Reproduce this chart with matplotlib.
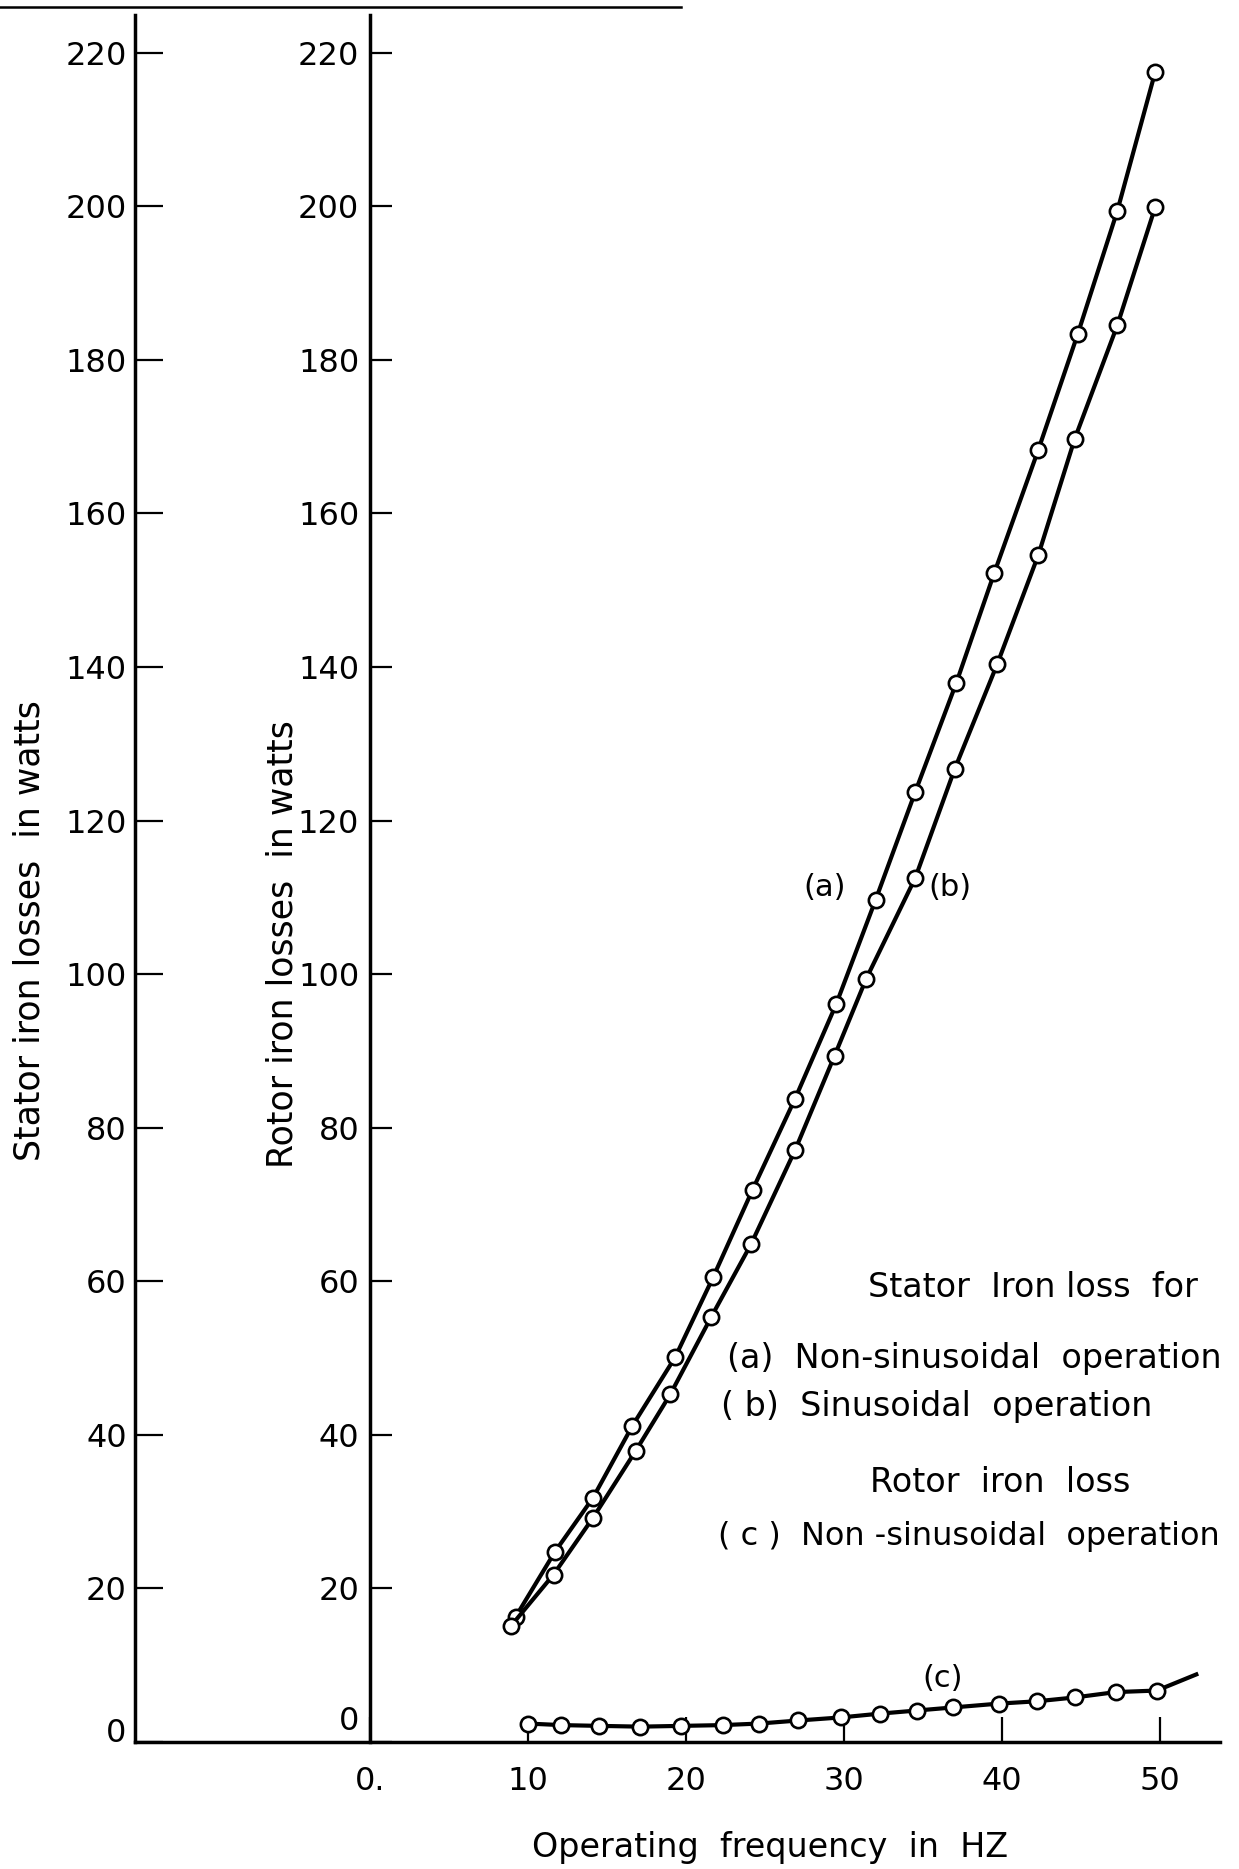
import matplotlib
matplotlib.use("Agg")
import matplotlib.pyplot as plt
from matplotlib.lines import Line2D
from matplotlib.transforms import ScaledTranslation

# data (Hz, watts)
freq_a = [9.2, 11.7, 14.1, 16.6, 19.3, 21.7, 24.2, 26.9, 29.5, 32.0, 34.5, 37.1, 39.5, 42.3, 44.8, 47.3, 49.7]
loss_a = [16.3, 24.8, 31.8, 41.2, 50.1, 60.5, 71.9, 83.8, 96.1, 109.7, 123.7, 137.9, 152.2, 168.3, 183.4, 199.4, 217.5]
freq_b = [8.9, 11.6, 14.1, 16.8, 19.0, 21.6, 24.1, 26.9, 29.4, 31.4, 34.5, 37.0, 39.7, 42.3, 44.6, 47.3, 49.7]
loss_b = [15.1, 21.8, 29.2, 37.9, 45.3, 55.4, 64.8, 77.1, 89.4, 99.4, 112.5, 126.7, 140.4, 154.6, 169.7, 184.5, 199.9]
freq_c = [10.0, 12.1, 14.5, 17.1, 19.7, 22.3, 24.6, 27.1, 29.8, 32.3, 34.6, 36.9, 39.8, 42.2, 44.6, 47.2, 49.8]
loss_c = [2.4, 2.2, 2.1, 2.0, 2.1, 2.2, 2.4, 2.8, 3.2, 3.7, 4.1, 4.5, 5.0, 5.3, 5.8, 6.5, 6.7]
# curve (c) is drawn on a little past the last point
tail_c_freq = [49.8, 52.3]
tail_c_loss = [6.7, 8.8]

y_ticks = list(range(0, 221, 20))
x_ticks = [0, 10, 20, 30, 40, 50]
x_ticklabels = ["0.", "10", "20", "30", "40", "50"]

plt.rcParams["font.family"] = ["DejaVu Sans"]
fs = 23
fs_key = 24

fig = plt.figure(figsize=(12.39, 18.69), dpi=100)
W, H = 1239.0, 1869.0
left_px, right_px, top_px, bot_px = 135, 1220, 15, 1742
pos = [left_px / W, 1 - bot_px / H, (right_px - left_px) / W, (bot_px - top_px) / H]

ax = fig.add_axes(pos)
ax.set_xlim(-14.9, 53.8)
ax.set_ylim(0, 224.9)

# rotor axis = left spine moved to x = 0
for s in ["top", "right"]:
    ax.spines[s].set_visible(False)
ax.spines["left"].set_position(("data", 0))
ax.spines["left"].set_linewidth(2.5)
ax.spines["bottom"].set_linewidth(2.5)
ax.set_yticks(y_ticks)
ax.set_yticklabels([str(v) for v in y_ticks], fontsize=fs)
ax.tick_params(axis="y", direction="in", length=16, width=1.6, pad=8)
ax.set_xticks(x_ticks)
ax.set_xticklabels(x_ticklabels, fontsize=fs)
ax.tick_params(axis="x", direction="in", length=18, width=1.6, pad=17)
ax.set_ylabel("Rotor iron losses  in watts", fontsize=25)
ax.yaxis.set_label_coords(0.152, 0.462)
ax.set_xlabel("Operating  frequency  in  HZ", fontsize=24, va="center")
ax.xaxis.set_label_coords(0.585, -0.061)

# stator axis on the far left, same scale
ax_s = fig.add_axes(pos, sharey=ax)
ax_s.patch.set_visible(False)
for s in ["top", "right", "bottom"]:
    ax_s.spines[s].set_visible(False)
ax_s.spines["left"].set_linewidth(2.5)
ax_s.set_xticks([])
ax_s.tick_params(axis="y", direction="in", length=20, width=1.6, pad=6, labelsize=fs)
ax_s.set_ylabel("Stator iron losses  in watts", fontsize=25)
ax_s.yaxis.set_label_coords(-0.082, 0.470)

# the two "0" labels sit just above the frequency axis in the original
fig.canvas.draw()
ax.get_yticklabels()[0].set_transform(
    ax.get_yticklabels()[0].get_transform() + ScaledTranslation(0, 17 / 72, fig.dpi_scale_trans))
ax_s.get_yticklabels()[0].set_transform(
    ax_s.get_yticklabels()[0].get_transform() + ScaledTranslation(0, 9 / 72, fig.dpi_scale_trans))

mk = dict(marker="o", markersize=11, markerfacecolor="white",
          markeredgecolor="black", markeredgewidth=1.9)
ax.plot(freq_a, loss_a, color="black", lw=3.0, **mk, zorder=3)
ax.plot(freq_b, loss_b, color="black", lw=3.0, **mk, zorder=3)
ax.plot(tail_c_freq, tail_c_loss, color="black", lw=3.0, zorder=2)
ax.plot(freq_c, loss_c, color="black", lw=3.0, **mk, zorder=3)

# curve labels
ax.text(0.636, 0.4945, "(a)", transform=ax.transAxes, fontsize=22, ha="center", va="center")
ax.text(0.751, 0.4945, "(b)", transform=ax.transAxes, fontsize=22, ha="center", va="center")
ax.text(0.744, 0.037, "(c)", transform=ax.transAxes, fontsize=22, ha="center", va="center")

# key text
ax.text(0.828, 0.263, "Stator  Iron loss  for", transform=ax.transAxes, fontsize=fs_key, ha="center", va="center")
ax.text(0.546, 0.222, "(a)  Non-sinusoidal  operation", transform=ax.transAxes, fontsize=fs_key, ha="left", va="center")
ax.text(0.540, 0.194, "( b)  Sinusoidal  operation", transform=ax.transAxes, fontsize=fs_key, ha="left", va="center")
ax.text(0.797, 0.150, "Rotor  iron  loss", transform=ax.transAxes, fontsize=fs_key, ha="center", va="center")
ax.text(0.537, 0.119, "( c )  Non -sinusoidal  operation", transform=ax.transAxes, fontsize=23, ha="left", va="center")

# page edge line across the top of the scan
fig.add_artist(Line2D([0.0, 0.55], [0.9963, 0.9963], color="black", lw=1.8))

fig.savefig("out.png", dpi=100, facecolor="white")
